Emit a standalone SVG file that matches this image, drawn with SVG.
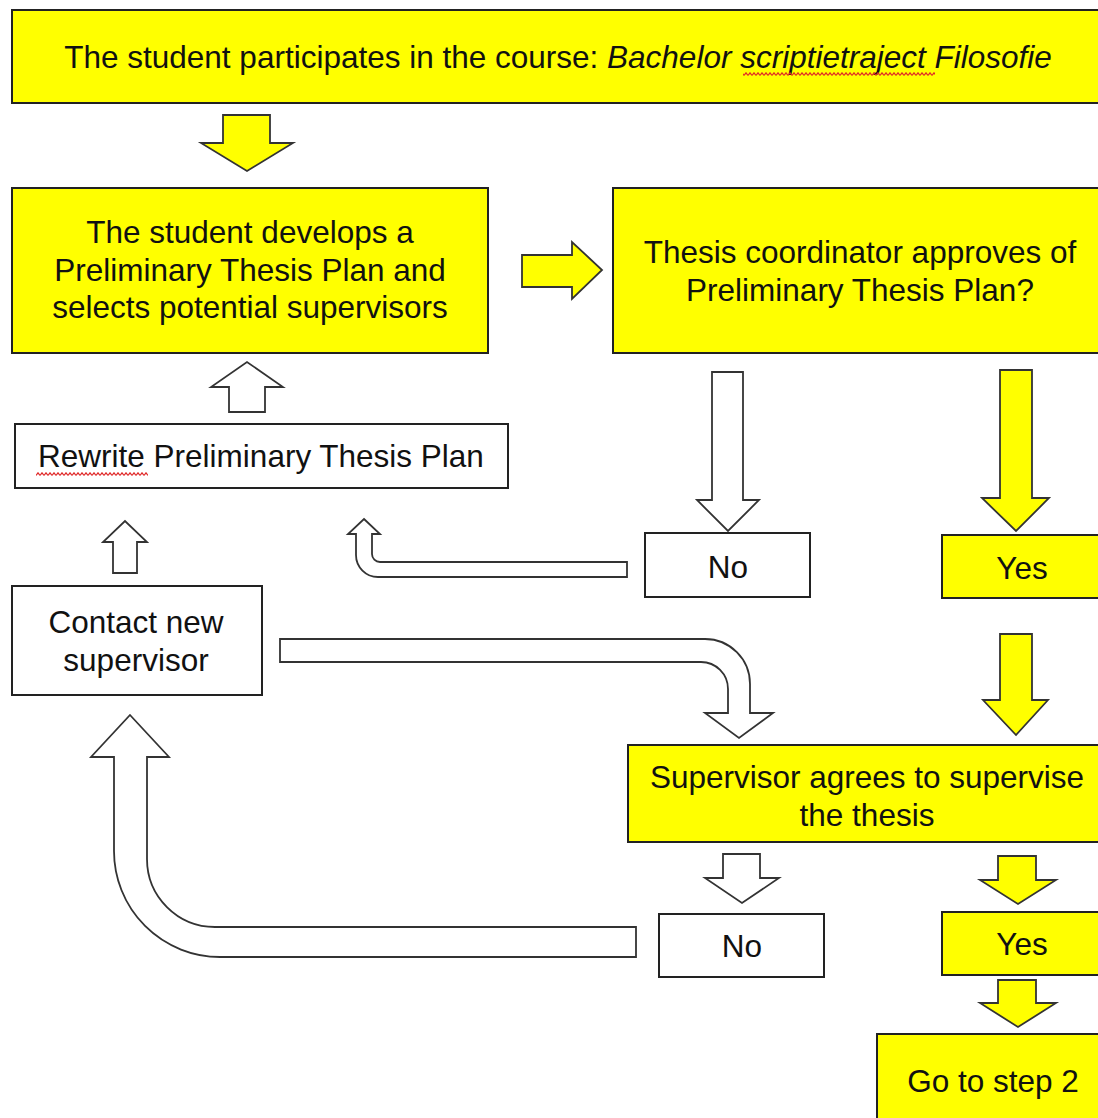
<svg xmlns="http://www.w3.org/2000/svg" width="1098" height="1118" viewBox="0 0 1098 1118">
  <style>
    .box { stroke: #222; stroke-width: 2; }
    .yel { fill: #ffff00; }
    .wht { fill: #ffffff; }
    .arr { stroke: #333; stroke-width: 1.8; stroke-linejoin: miter; }
    text { font-family: "Liberation Sans", Arial, sans-serif; font-size: 31.5px; fill: #111; text-anchor: middle; }
    .it { font-style: italic; }
  </style>
  <defs>
    <!-- red spell-check wave -->
    <pattern id="squig" width="4" height="4" patternUnits="userSpaceOnUse">
      <path d="M0,3.4 L2,0.8 L4,3.4" fill="none" stroke="#e02828" stroke-width="1.2"/>
    </pattern>
  </defs>

  <rect width="1098" height="1118" fill="#ffffff"/>

  <!-- connectors -->
  <g id="connectors">
    <path class="arr yel" d="M223,115 H270 V143 H293 L247,171 L201,143 H223 Z"/>
    <path class="arr yel" d="M522,255 H572 V242 L602,270 L572,299 V287 H522 Z"/>
    <path class="arr wht" d="M712,372 H743 V500 H759 L728,531 L697,500 H712 Z"/>
    <path class="arr yel" d="M1000,370 H1032 V498 H1049 L1016,531 L982,498 H1000 Z"/>
    <path class="arr wht" d="M229,412 V387 H211 L247,362 L283,387 H265 V412 Z"/>
    <path class="arr wht" d="M113,573 V542 H103 L125,521 L147,542 H137 V573 Z"/>
    <path class="arr wht" d="M364,519 L380,534 H372 V554 A8,8 0 0 0 380,562 H627 V577 H378 A22,22 0 0 1 356,555 V534 H348 Z"/>
    <path class="arr yel" d="M1000,634 H1032 V700 H1048 L1016,735 L983,700 H1000 Z"/>
    <path class="arr wht" d="M280,639 H705 A45,45 0 0 1 750,684 V713 H773 L739,738 L705,713 H728 V689 A27,27 0 0 0 701,662 H280 Z"/>
    <path class="arr wht" d="M130,715 L169,757 H147 V859 A68,68 0 0 0 215,927 H636 V957 H220 A106,106 0 0 1 114,851 V757 H91 Z"/>
    <path class="arr wht" d="M723,854 H760 V878 H779 L742,903 L705,878 H723 Z"/>
    <path class="arr yel" d="M998,856 H1036 V880 H1056 L1018,904 L980,880 H998 Z"/>
    <path class="arr yel" d="M998,980 H1036 V1003 H1056 L1018,1027 L980,1003 H998 Z"/>
  </g>

  <g id="course">
    <rect class="box yel" x="12" y="10" width="1100" height="93"/>
    <text x="558" y="68">The student participates in the course: <tspan class="it">Bachelor scriptietraject Filosofie</tspan></text>
    <rect x="743" y="72" width="192" height="4" fill="url(#squig)"/>
  </g>

  <g id="develop-plan">
    <rect class="box yel" x="12" y="188" width="476" height="165"/>
    <text x="250" y="243">The student develops a</text>
    <text x="250" y="281">Preliminary Thesis Plan and</text>
    <text x="250" y="318">selects potential supervisors</text>
  </g>

  <g id="coordinator-approves">
    <rect class="box yel" x="613" y="188" width="500" height="165"/>
    <text x="860" y="263">Thesis coordinator approves of</text>
    <text x="860" y="301">Preliminary Thesis Plan?</text>
  </g>

  <g id="rewrite-plan">
    <rect class="box wht" x="15" y="424" width="493" height="64"/>
    <text x="261" y="467">Rewrite Preliminary Thesis Plan</text>
    <rect x="36" y="472" width="112" height="4" fill="url(#squig)"/>
  </g>

  <g id="no-1">
    <rect class="box wht" x="645" y="533" width="165" height="64"/>
    <text x="728" y="578">No</text>
  </g>

  <g id="yes-1">
    <rect class="box yel" x="942" y="535" width="170" height="63"/>
    <text x="1022" y="579">Yes</text>
  </g>

  <g id="contact-supervisor">
    <rect class="box wht" x="12" y="586" width="250" height="109"/>
    <text x="136" y="633">Contact new</text>
    <text x="136" y="671">supervisor</text>
  </g>

  <g id="supervisor-agrees">
    <rect class="box yel" x="628" y="745" width="490" height="97"/>
    <text x="867" y="788">Supervisor agrees to supervise</text>
    <text x="867" y="826">the thesis</text>
  </g>

  <g id="no-2">
    <rect class="box wht" x="659" y="914" width="165" height="63"/>
    <text x="742" y="957">No</text>
  </g>

  <g id="yes-2">
    <rect class="box yel" x="942" y="912" width="170" height="63"/>
    <text x="1022" y="955">Yes</text>
  </g>

  <g id="go-step-2">
    <rect class="box yel" x="877" y="1034" width="240" height="100"/>
    <text x="993" y="1092">Go to step 2</text>
  </g>
</svg>
